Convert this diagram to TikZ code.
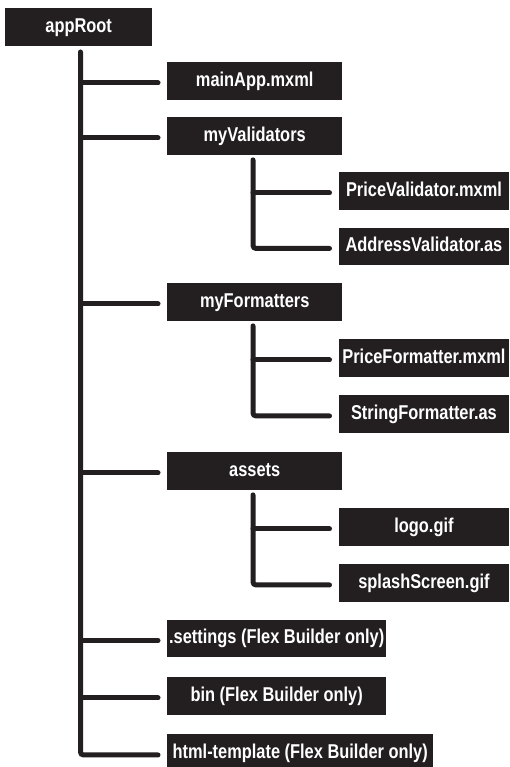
\documentclass[tikz,border=0pt]{standalone}
\usepackage{fontspec}
\newfontfamily\labelfont{Liberation Sans}[FakeStretch=0.82]
\definecolor{ink}{RGB}{35,31,32}
\tikzset{
  box/.style={fill=ink, text=white, inner sep=0pt, anchor=north west,
    minimum height=37.5pt, text height=15pt, text depth=4pt,
    font=\labelfont\bfseries\fontsize{20pt}{22pt}\selectfont},
  lvlone/.style={box, minimum width=175pt},
  lvltwo/.style={box, minimum width=170.5pt},
  conn/.style={draw=ink, line width=5pt, line cap=round, rounded corners=3pt},
}
\begin{document}
\begin{tikzpicture}[x=1pt,y=-1pt]
\useasboundingbox (0,0) rectangle (509,767);

% folders and files
\node[box, minimum width=147pt] (root) at (5,8) {appRoot};
\node[lvlone] (main)   at (167,62)  {mainApp.mxml};
\node[lvlone] (val)    at (167,117) {myValidators};
\node[lvltwo] (pval)   at (338.5,172) {PriceValidator.mxml};
\node[lvltwo] (aval)   at (338.5,227.5) {AddressValidator.as};
\node[lvlone] (fmt)    at (167,283) {myFormatters};
\node[lvltwo] (pfmt)   at (338.5,339) {PriceFormatter.mxml};
\node[lvltwo] (sfmt)   at (338.5,395) {StringFormatter.as};
\node[lvlone] (assets) at (167,452) {assets};
\node[lvltwo] (logo)   at (338.5,508) {logo.gif};
\node[lvltwo] (splash) at (338.5,564) {splashScreen.gif};
\node[box, minimum width=219pt] (settings) at (167,619.5) {.settings (Flex Builder only)};
\node[box, minimum width=219pt] (bin)      at (167,677)   {bin (Flex Builder only)};
\node[box, minimum width=266pt] (html)     at (167,734)   {html-template (Flex Builder only)};

% trunk positions
\coordinate (t0) at (80.5,52);
\coordinate (v0) at (253,0);

% main trunk with its branches
\draw[conn] (t0) |- ([xshift=-9pt,yshift=-2pt]html.west);
\foreach \n in {main,val,fmt,assets,settings,bin}
  \draw[conn] ([yshift=-2pt]\n.west -| t0) -- ([xshift=-9pt,yshift=-2pt]\n.west);

% sub-folder trunks
\draw[conn] (val.south -| v0) ++(0,5) |- ([xshift=-9pt,yshift=-2pt]aval.west);
\draw[conn] ([yshift=-2pt]pval.west -| v0) -- ([xshift=-9pt,yshift=-2pt]pval.west);
\draw[conn] (fmt.south -| v0) ++(0,5) |- ([xshift=-9pt,yshift=-2pt]sfmt.west);
\draw[conn] ([yshift=-2pt]pfmt.west -| v0) -- ([xshift=-9pt,yshift=-2pt]pfmt.west);
\draw[conn] (assets.south -| v0) ++(0,5) |- ([xshift=-9pt,yshift=-2pt]splash.west);
\draw[conn] ([yshift=-2pt]logo.west -| v0) -- ([xshift=-9pt,yshift=-2pt]logo.west);
\end{tikzpicture}
\end{document}
